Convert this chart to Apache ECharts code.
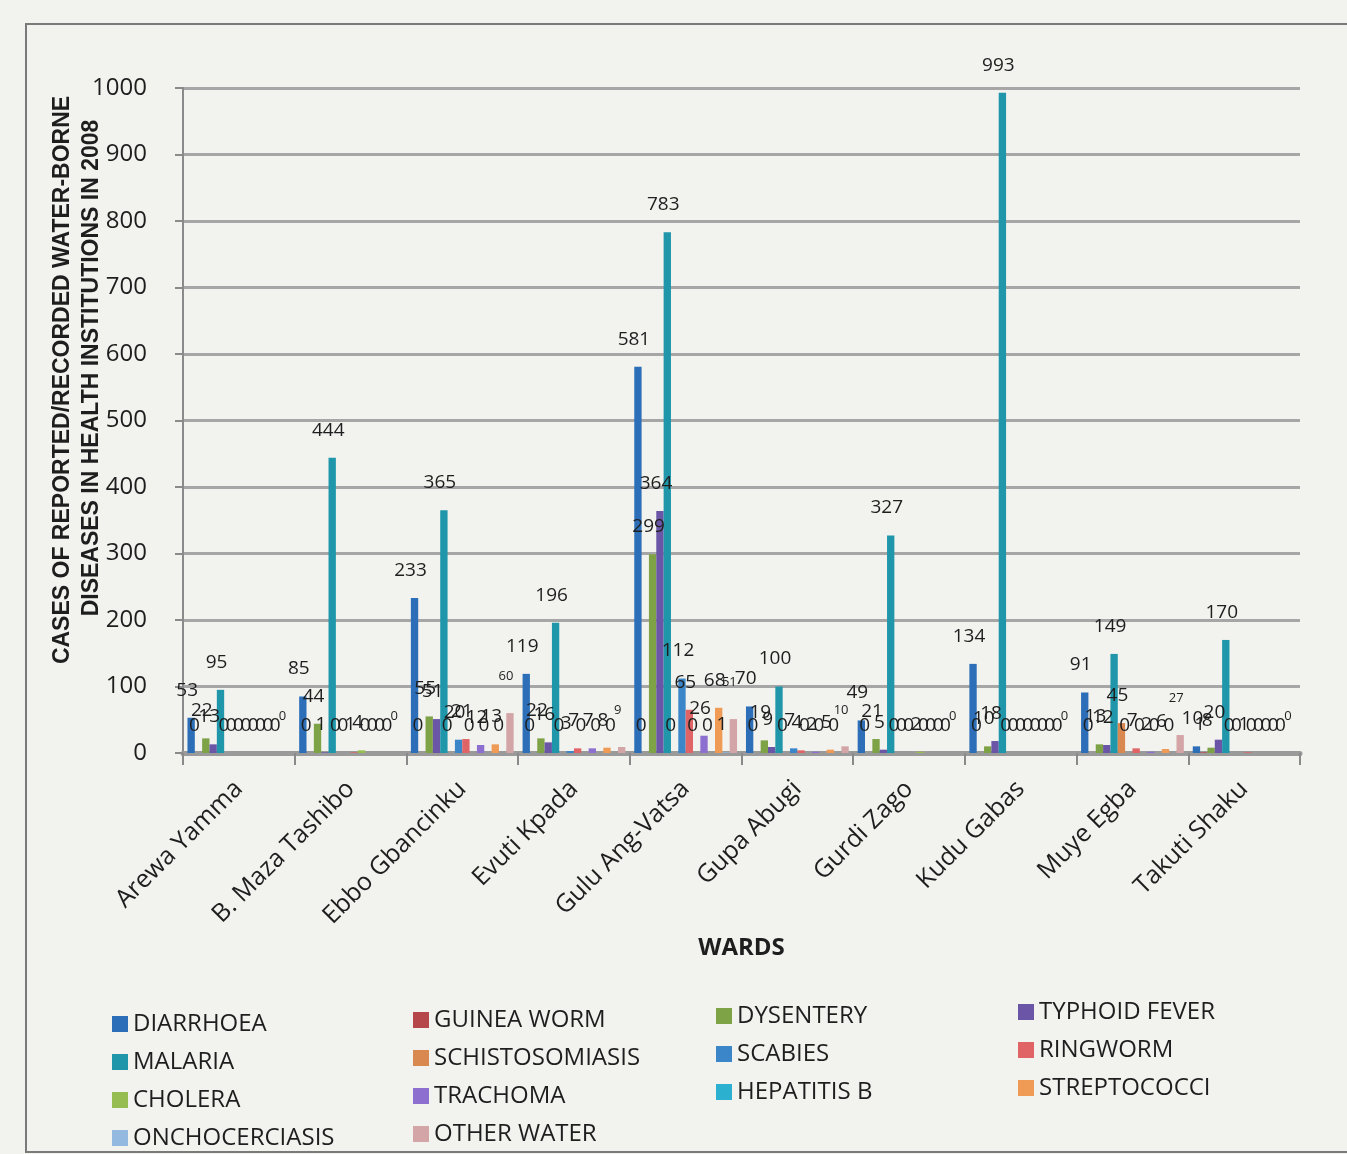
<!DOCTYPE html>
<html>
<head>
<meta charset="utf-8">
<title>Water-borne diseases by ward, 2008</title>
<script src="https://cdn.jsdelivr.net/npm/echarts@6/dist/echarts.min.js"></script>
<style>
  html, body { margin: 0; padding: 0; background: #f2f2ef; }
  #chart { width: 1347px; height: 1154px; }
</style>
</head>
<body>
<div id="chart"></div>
<script>
// Wards (categories)
const wards = ['Arewa Yamma', 'B. Maza Tashibo', 'Ebbo Gbancinku', 'Evuti Kpada', 'Gulu Ang-Vatsa',
  'Gupa Abugi', 'Gurdi Zago', 'Kudu Gabas', 'Muye Egba', 'Takuti Shaku'];

// Reported cases per disease, one value per ward
const diarrhoea      = [53, 85, 233, 119, 581, 70, 49, 134, 91, 10];
const guineaWorm     = [0, 0, 0, 0, 0, 0, 0, 0, 0, 1];
const dysentery      = [22, 44, 55, 22, 299, 19, 21, 10, 13, 8];
const typhoidFever   = [13, 1, 51, 16, 364, 9, 5, 18, 12, 20];
const malaria        = [95, 444, 365, 196, 783, 100, 327, 993, 149, 170];
const schisto        = [0, 0, 0, 0, 0, 0, 0, 0, 45, 0];
const scabies        = [0, 0, 20, 3, 112, 7, 0, 0, 0, 0];
const ringworm       = [0, 1, 21, 7, 65, 4, 0, 0, 7, 1];
const cholera        = [0, 4, 0, 0, 0, 0, 2, 0, 0, 0];
const trachoma       = [0, 0, 12, 7, 26, 2, 0, 0, 2, 0];
const hepatitisB     = [0, 0, 0, 0, 0, 0, 0, 0, 0, 0];
const streptococci   = [0, 0, 13, 8, 68, 5, 0, 0, 6, 0];
const onchocerciasis = [0, 0, 0, 0, 1, 0, 0, 0, 0, 0];
const otherWater     = [0, 0, 60, 9, 51, 10, 0, 0, 27, 0];

// Y axis ticks
const yMin = 0, yMax = 1000, yStep = 100;

// Series in drawing order
const seriesDefs = [
  ['DIARRHOEA', diarrhoea, '#2c6fb8'],
  ['GUINEA WORM', guineaWorm, '#b5474a'],
  ['DYSENTERY', dysentery, '#7ea246'],
  ['TYPHOID FEVER', typhoidFever, '#6a55a6'],
  ['MALARIA', malaria, '#1f96aa'],
  ['SCHISTOSOMIASIS', schisto, '#d98850'],
  ['SCABIES', scabies, '#3a86c8'],
  ['RINGWORM', ringworm, '#e06465'],
  ['CHOLERA', cholera, '#96bd4f'],
  ['TRACHOMA', trachoma, '#8d6fcf'],
  ['HEPATITIS B', hepatitisB, '#2bb0cf'],
  ['STREPTOCOCCI', streptococci, '#ef9a55'],
  ['ONCHOCERCIASIS', onchocerciasis, '#93b9e0'],
  ['OTHER WATER', otherWater, '#d3a5a6']
];

// Legend columns
const legendCols = [
  ['DIARRHOEA', 'MALARIA', 'CHOLERA', 'ONCHOCERCIASIS'],
  ['GUINEA WORM', 'SCHISTOSOMIASIS', 'TRACHOMA', 'OTHER WATER'],
  ['DYSENTERY', 'SCABIES', 'HEPATITIS B'],
  ['TYPHOID FEVER', 'RINGWORM', 'STREPTOCOCCI']
];
const legendPos = [[112, 1011], [413, 1007], [716, 1003], [1018, 999]];

const FONT = '"Open Sans", "Liberation Sans", sans-serif';

const series = seriesDefs.map(([name, data, color]) => {
  const small = name === 'OTHER WATER';
  return {
    name, type: 'bar', data,
    barGap: '0%', barCategoryGap: '8%',
    itemStyle: { color },
    label: {
      show: true, position: 'top',
      distance: small ? 30 : 18,
      offset: [-4, 0],
      color: '#1e1e1e',
      fontFamily: FONT,
      fontSize: small ? 13 : 19
    }
  };
});

const legends = legendCols.map((items, i) => ({
  orient: 'vertical',
  left: legendPos[i][0], top: legendPos[i][1],
  height: 200, padding: 0,
  data: items,
  icon: 'rect', itemWidth: 16, itemHeight: 16, itemGap: 12,
  textStyle: { fontFamily: FONT, fontSize: 24, color: '#1e1e1e', lineHeight: 26 }
}));

const chart = echarts.init(document.getElementById('chart'));
chart.setOption({
  backgroundColor: '#f2f2ef',
  animation: false,
  grid: { left: 183, right: 47, top: 88, bottom: 401, containLabel: false },
  legend: legends,
  xAxis: {
    type: 'category', data: wards,
    axisLine: { lineStyle: { color: '#9a9a9a', width: 5 } },
    axisTick: { show: true, length: 12, lineStyle: { color: '#8a8a8a', width: 2 } },
    axisLabel: { rotate: 45, interval: 0, margin: 32, fontFamily: FONT, fontSize: 25, color: '#1e1e1e' },
    name: 'WARDS', nameLocation: 'middle', nameGap: 182,
    nameTextStyle: { fontFamily: FONT, fontWeight: 'bold', fontSize: 24, color: '#1e1e1e' }
  },
  yAxis: {
    type: 'value', min: yMin, max: yMax, interval: yStep,
    axisLine: { show: true, lineStyle: { color: '#8a8a8a', width: 2 } },
    axisTick: { show: true, length: 8, lineStyle: { color: '#8a8a8a', width: 2 } },
    axisLabel: { margin: 36, fontFamily: FONT, fontSize: 24, color: '#1e1e1e', formatter: v => String(v) },
    splitLine: { lineStyle: { color: '#a6a6a6', width: 3 } }
  },
  graphic: [
    { type: 'rect', shape: { x: 26, y: 24, width: 1340, height: 1128 },
      style: { fill: 'none', stroke: '#7a7a7a', lineWidth: 2 }, silent: true },
    { type: 'text', x: 63, y: 380, rotation: Math.PI / 2,
      style: { text: 'CASES OF REPORTED/RECORDED WATER-BORNE', textAlign: 'center', textVerticalAlign: 'middle',
        fontFamily: '"Liberation Sans", Arial, sans-serif', fontWeight: 'bold', fontSize: 23, fill: '#1e1e1e' } },
    { type: 'text', x: 92, y: 368, rotation: Math.PI / 2,
      style: { text: 'DISEASES IN HEALTH INSTITUTIONS IN 2008', textAlign: 'center', textVerticalAlign: 'middle',
        fontFamily: '"Liberation Sans", Arial, sans-serif', fontWeight: 'bold', fontSize: 23, fill: '#1e1e1e' } }
  ],
  series
});
</script>
</body>
</html>
